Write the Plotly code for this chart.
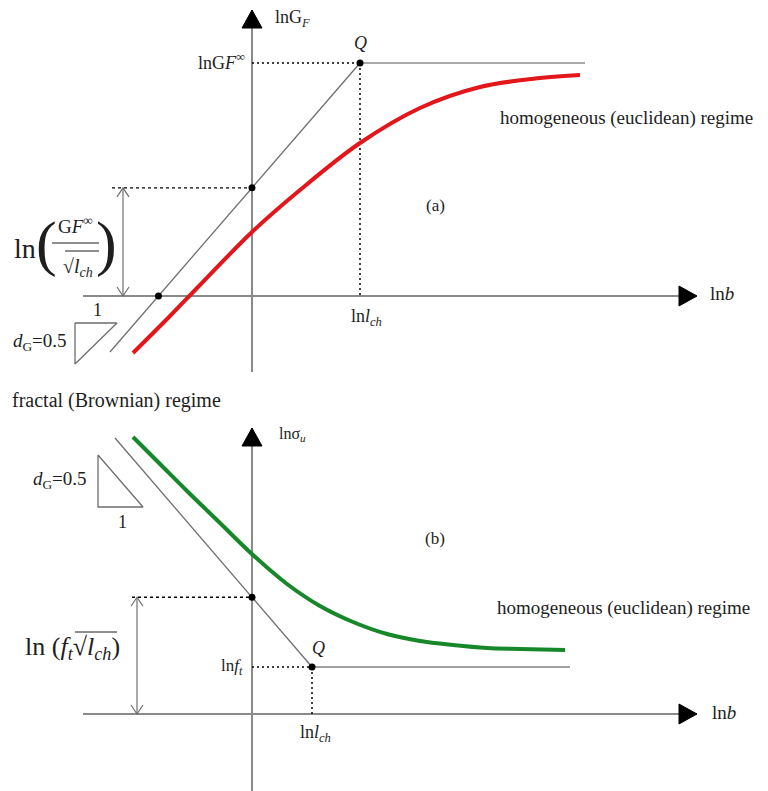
import numpy as np
import plotly.graph_objects as go

PX = 100.0   # pixels per data unit (same on both axes)
PAGE = 8     # default page margin of the html body
FONT = "Liberation Serif"

# ---------------- panel (a): ln G_F versus ln b ----------------
A_AXIS_LNB = [-1.69, 4.45]          # horizontal axis extent (tip on the right)
A_AXIS_LNG = [-0.76, 2.86]          # vertical axis extent (tip on top)
A_LNL_CH = 1.08                     # ln l_ch  (abscissa of Q)
A_LNGF_INF = 2.33                   # ln GF_inf (ordinate of Q)
A_FRACTAL_LNB = [-1.42, 1.08]       # fractal asymptote
A_FRACTAL_LNG = [-0.56, 2.33]
A_PLATEAU_END = 3.33
A_CURVE_LNB = [-1.19, -0.82, -0.52, 0.00, 0.48, 1.08, 1.68, 2.28, 2.88, 3.28]
A_CURVE_LNG = [-0.57, -0.20, 0.11, 0.64, 1.06, 1.53, 1.88, 2.09, 2.18, 2.21]
A_GAP_LNB = -1.29                   # double arrow abscissa
A_DOT_START = -1.40                 # dotted guide start
A_TRI_LNB = [-1.77, -1.35, -1.77]   # slope triangle
A_TRI_LNG = [-0.27, -0.27, -0.68]

# ---------------- panel (b): ln sigma_u versus ln b ----------------
B_AXIS_LNB = [-1.69, 4.45]
B_AXIS_LNS = [-0.80, 2.86]
B_LNL_CH = 0.60
B_LNF_T = 0.47
B_FRACTAL_LNB = [-1.37, 0.60]
B_FRACTAL_LNS = [2.76, 0.47]
B_PLATEAU_END = 3.18
B_CURVE_LNB = [-1.19, -0.92, -0.65, -0.32, 0.01, 0.35, 0.68, 1.01, 1.35, 1.68, 2.01, 2.35, 2.68, 3.13]
B_CURVE_LNS = [2.77, 2.50, 2.23, 1.91, 1.59, 1.30, 1.08, 0.92, 0.80, 0.73, 0.69, 0.66, 0.65, 0.64]
B_GAP_LNB = -1.15
B_DOT_START = -1.20
B_TRI_LNB = [-1.54, -1.54, -1.09]
B_TRI_LNS = [2.59, 2.07, 2.07]

AXIS_COL = "#8a8a8a"
LINE_COL = "#6e6e6e"
TXT_COL = "#1e1e1e"

fig = go.Figure()
shapes = []
annots = []


def line(xs, ys, yax, color=LINE_COL, width=1.3, dash=None):
    fig.add_trace(go.Scatter(x=xs, y=ys, yaxis=yax, mode="lines",
                             line=dict(color=color, width=width, dash=dash),
                             hoverinfo="skip", showlegend=False))


def dots(xs, ys, yax):
    fig.add_trace(go.Scatter(x=xs, y=ys, yaxis=yax, mode="markers",
                             marker=dict(color="black", size=7),
                             hoverinfo="skip", showlegend=False))


def filled_head(tx, ty, direction, yref, length=18, half=10):
    L, H = length / PX, half / PX
    if direction == "up":
        p = f"M {tx},{ty} L {tx-H},{ty-L} L {tx+H},{ty-L} Z"
    else:
        p = f"M {tx},{ty} L {tx-L},{ty-H} L {tx-L},{ty+H} Z"
    shapes.append(dict(type="path", path=p, xref="x", yref=yref,
                       fillcolor="black", line=dict(color="black", width=1)))


def open_head(tx, ty, direction, yref, length=9, half=6):
    L, H = length / PX, half / PX
    s = 1 if direction == "up" else -1
    p = f"M {tx-H},{ty-s*L} L {tx},{ty} L {tx+H},{ty-s*L}"
    shapes.append(dict(type="path", path=p, xref="x", yref=yref,
                       line=dict(color=LINE_COL, width=1.2)))


def text(x, y, yref, t, size=18, xanchor="center", yanchor="middle"):
    annots.append(dict(x=x, y=y, xref="x", yref=yref, text=t, showarrow=False,
                       xanchor=xanchor, yanchor=yanchor,
                       font=dict(family=FONT, size=size, color=TXT_COL)))


# ================= panel (a) =================
ya, yra = "y", "y"
line(A_AXIS_LNB, [0, 0], ya, AXIS_COL, 2)
line([0, 0], A_AXIS_LNG, ya, AXIS_COL, 2)
filled_head(A_AXIS_LNB[1], 0, "right", yra)
filled_head(0, A_AXIS_LNG[1], "up", yra)

line(A_FRACTAL_LNB, A_FRACTAL_LNG, ya)
line([A_LNL_CH, A_PLATEAU_END], [A_LNGF_INF, A_LNGF_INF], ya, "#8c8c8c", 1.6)
a_int = float(np.interp(0, A_FRACTAL_LNB, A_FRACTAL_LNG))
a_xint = float(np.interp(0, A_FRACTAL_LNG, A_FRACTAL_LNB))
line([0, A_LNL_CH], [A_LNGF_INF, A_LNGF_INF], ya, "black", 1.5, "2px,3px")
line([A_LNL_CH, A_LNL_CH], [A_LNGF_INF, 0], ya, "black", 1.5, "2px,3px")
line([A_DOT_START, 0], [a_int, a_int], ya, "black", 1.3, "3px,3px")
line([A_GAP_LNB, A_GAP_LNB], [0, a_int], ya, LINE_COL, 1.2)
open_head(A_GAP_LNB, a_int, "up", yra)
open_head(A_GAP_LNB, 0, "down", yra)
dots([0, a_xint, A_LNL_CH], [a_int, 0, A_LNGF_INF], ya)
fig.add_trace(go.Scatter(x=A_TRI_LNB + [A_TRI_LNB[0]], y=A_TRI_LNG + [A_TRI_LNG[0]],
                         yaxis=ya, mode="lines", line=dict(color=LINE_COL, width=1.3),
                         hoverinfo="skip", showlegend=False))
fig.add_trace(go.Scatter(x=A_CURVE_LNB, y=A_CURVE_LNG, yaxis=ya, mode="lines",
                         line=dict(color="#e3161c", width=4, shape="spline"),
                         hoverinfo="skip", showlegend=False))

text(0.21, 2.78, yra, "lnG<sub><i>F</i></sub>", 18, "left")
text(-0.05, A_LNGF_INF + 0.02, yra, "lnG<i>F</i><sup>∞</sup>", 18, "right")
text(A_LNL_CH, 2.53, yra, "<i>Q</i>", 18)
text(A_LNL_CH + 0.06, -0.21, yra, "ln<i>l</i><sub><i>ch</i></sub>", 18)
text(4.56, 0.03, yra, "ln<i>b</i>", 19, "left")
text(1.83, 0.91, yra, "(a)", 17)
text(2.46, 1.78, yra, "homogeneous (euclidean) regime", 19, "left")
text(-2.12, -0.46, yra, "<i>d</i><sub>G</sub>=0.5", 19)
text(-1.55, -0.14, yra, "1", 18)
text(-2.42, -1.04, yra, "fractal (Brownian) regime", 20, "left")
# ln( GF_inf / sqrt(l_ch) )
text(-2.27, 0.48, yra, "ln", 28)
text(-2.06, 0.53, yra, "(", 62)
text(-1.46, 0.53, yra, ")", 62)
text(-1.77, 0.71, yra, "G<i>F</i><sup>∞</sup>", 19)
text(-1.74, 0.29, yra, "√<i>l</i><sub><i>ch</i></sub>", 20)
shapes.append(dict(type="line", x0=-2.0, x1=-1.53, y0=0.53, y1=0.53, xref="x", yref=yra,
                   line=dict(color=TXT_COL, width=1.2)))
shapes.append(dict(type="line", x0=-1.87, x1=-1.53, y0=0.45, y1=0.45, xref="x", yref=yra,
                   line=dict(color=TXT_COL, width=1)))

# ================= panel (b) =================
yb, yrb = "y2", "y2"
line(B_AXIS_LNB, [0, 0], yb, AXIS_COL, 2)
line([0, 0], B_AXIS_LNS, yb, AXIS_COL, 2)
filled_head(B_AXIS_LNB[1], 0, "right", yrb)
filled_head(0, B_AXIS_LNS[1], "up", yrb)

line(B_FRACTAL_LNB, B_FRACTAL_LNS, yb)
line([B_LNL_CH, B_PLATEAU_END], [B_LNF_T, B_LNF_T], yb, "#a0a0a0", 1.8)
b_int = float(np.interp(0, B_FRACTAL_LNB, B_FRACTAL_LNS))
line([0, B_LNL_CH], [B_LNF_T, B_LNF_T], yb, "black", 1.5, "2px,3px")
line([B_LNL_CH, B_LNL_CH], [B_LNF_T, 0], yb, "black", 1.5, "2px,3px")
line([B_DOT_START, 0], [b_int, b_int], yb, "black", 1.3, "3px,3px")
line([B_GAP_LNB, B_GAP_LNB], [0, b_int], yb, LINE_COL, 1.2)
open_head(B_GAP_LNB, b_int, "up", yrb)
open_head(B_GAP_LNB, 0, "down", yrb)
dots([0, B_LNL_CH], [b_int, B_LNF_T], yb)
fig.add_trace(go.Scatter(x=B_TRI_LNB + [B_TRI_LNB[0]], y=B_TRI_LNS + [B_TRI_LNS[0]],
                         yaxis=yb, mode="lines", line=dict(color=LINE_COL, width=1.3),
                         hoverinfo="skip", showlegend=False))
fig.add_trace(go.Scatter(x=B_CURVE_LNB, y=B_CURVE_LNS, yaxis=yb, mode="lines",
                         line=dict(color="#16882a", width=4, shape="spline"),
                         hoverinfo="skip", showlegend=False))

text(0.25, 2.79, yrb, "lnσ<sub><i>u</i></sub>", 16, "left")
text(-0.07, B_LNF_T, yrb, "ln<i>f</i><sub><i>t</i></sub>", 17, "right")
text(B_LNL_CH + 0.06, 0.66, yrb, "<i>Q</i>", 18)
text(B_LNL_CH + 0.03, -0.19, yrb, "ln<i>l</i><sub><i>ch</i></sub>", 18)
text(4.58, 0.02, yrb, "ln<i>b</i>", 19, "left")
text(1.83, 1.76, yrb, "(b)", 17)
text(2.43, 1.06, yrb, "homogeneous (euclidean) regime", 19, "left")
text(-1.92, 2.34, yrb, "<i>d</i><sub>G</sub>=0.5", 19)
text(-1.30, 1.92, yrb, "1", 18)
text(-1.80, 0.66, yrb, "ln (<i>f</i><sub><i>t</i></sub>√<i>l</i><sub><i>ch</i></sub>)", 26)
shapes.append(dict(type="line", x0=-1.77, x1=-1.35, y0=0.82, y1=0.82, xref="x", yref=yrb,
                   line=dict(color=TXT_COL, width=1)))

# figure pixel rows/cols are shown PAGE px lower/right on the page
split = 1 - 395 / 791
fig.update_layout(
    width=768, height=791,
    margin=dict(l=0, r=0, t=0, b=0),
    paper_bgcolor="white", plot_bgcolor="white",
    xaxis=dict(domain=[0, 1], range=[(PAGE - 252) / PX, (768 + PAGE - 252) / PX],
               visible=False, fixedrange=True, anchor="y"),
    yaxis=dict(domain=[split, 1], range=[(296 - 395 - PAGE) / PX, (296 - PAGE) / PX],
               visible=False, fixedrange=True, anchor="x"),
    yaxis2=dict(domain=[0, split], range=[(714 - 791 - PAGE) / PX, (714 - 395 - PAGE) / PX],
                visible=False, fixedrange=True, anchor="x"),
    shapes=shapes, annotations=annots, showlegend=False,
)
fig.write_html("out.html", config={"displayModeBar": False})
